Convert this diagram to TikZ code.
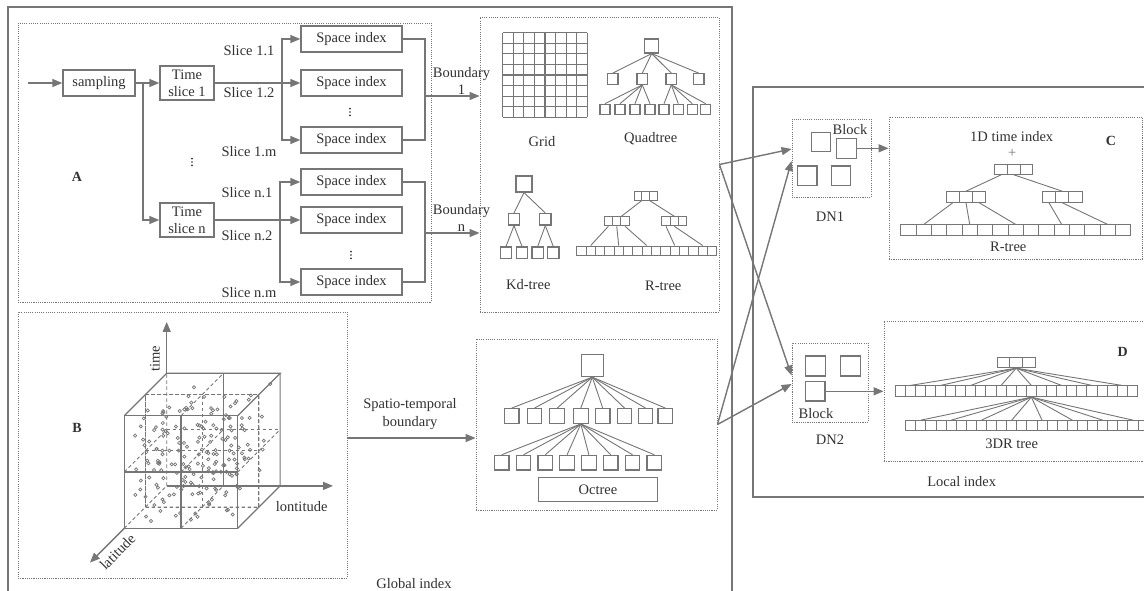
\documentclass[tikz,border=0pt]{standalone}
\usepackage{fontspec}
\setmainfont{Liberation Serif}
\usetikzlibrary{arrows.meta,calc}
\definecolor{lncol}{RGB}{118,118,118}
\definecolor{txcol}{RGB}{50,50,50}
% a row of equal cells named <prefix>1, <prefix>2, ...
% #1 prefix, #2 x of first centre, #3 y, #4 count, #5 cell width, #6 cell height
\newcommand\cellrow[6]{%
  \foreach \k in {1,...,#4}{%
    \node[rcell, minimum width=#5pt, minimum height=#6pt] (#1\k) at ({#2+(\k-1)*#5},#3) {};
  }%
}
% three small dots stacked vertically
\newcommand\vdotsat[2]{%
  \foreach \d in {-3.4,0,3.4}{\fill[txcol] (#1,{#2+\d}) circle[radius=0.95pt];}%
}
\begin{document}
\begin{tikzpicture}[x=1pt,y=-1pt,
  every node/.style={text=txcol, font=\fontsize{14.5}{17}\selectfont, inner sep=0pt},
  ln/.style={draw=lncol, line width=1.4pt},
  arr/.style={ln, -{Triangle[length=10pt,width=8pt]}},
  tline/.style={draw=lncol, line width=0.9pt},
  outerbox/.style={draw=lncol, line width=1.8pt, rectangle},
  dotbox/.style={draw=lncol, line width=0.9pt, dash pattern=on 1.1pt off 1.1pt, rectangle},
  flowbox/.style={draw=lncol, line width=1.4pt, rectangle, align=center},
  qbox/.style={draw=lncol, line width=1.2pt, rectangle, minimum size=#1pt},
  rcell/.style={draw=lncol, line width=1pt, rectangle},
  tag/.style={font=\fontsize{14}{16}\selectfont\bfseries},
  cubesolid/.style={draw=lncol, line width=1.2pt},
  cubedash/.style={draw=lncol, line width=0.9pt, dash pattern=on 3.5pt off 2.5pt},
  dotc/.style={draw=lncol, line width=0.7pt},
]
\useasboundingbox (0,0) rectangle (1144,591);
\clip (0,0) rectangle (1144,591);
\fill[white] (0,0) rectangle (1144,591);

% ---------- frames ----------
\node[outerbox, minimum width=724pt, minimum height=613pt] (global) at (370,313.5) {};
\node[outerbox, minimum width=417pt, minimum height=410pt] (local) at (961.5,292) {};

\node[dotbox, minimum width=413pt, minimum height=279pt] (boxA) at (224.5,162.5) {};
\node[dotbox, minimum width=239pt, minimum height=295pt] (spbox) at (599.5,164.5) {};
\node[dotbox, minimum width=329pt, minimum height=266pt] (boxB) at (182.5,445) {};
\node[dotbox, minimum width=241pt, minimum height=171pt] (octbox) at (596.5,424.5) {};
\node[dotbox, minimum width=79pt, minimum height=78pt] (dn1) at (831.5,158) {};
\node[dotbox, minimum width=253.5pt, minimum height=142pt] (boxC) at (1015.75,188) {};
\node[dotbox, minimum width=76pt, minimum height=79pt] (dn2) at (830,382.5) {};
\node[dotbox, minimum width=286pt, minimum height=140pt] (boxD) at (1027,391) {};

% ---------- time slicing flow ----------
\node[flowbox, minimum width=72pt, minimum height=26pt] (sampling) at (99,83) {sampling};
\node[flowbox, minimum width=54pt, minimum height=34pt] (ts1) at (187,83) {Time\\slice 1};
\node[flowbox, minimum width=54pt, minimum height=34pt] (tsn) at (187,220) {Time\\slice n};
\foreach \n/\y in {1/39,2/83,3/140,4/182,5/220,6/282}
  \node[flowbox, minimum width=101pt, minimum height=26pt] (si\n) at (351.5,\y) {Space index};

\coordinate (src) at (28,83);
\coordinate (fk0) at (143,83);
\coordinate (fk1) at (282,83);
\coordinate (fk2) at (280,220);
\coordinate (mg1) at (425,96);
\coordinate (mg2) at (425,233);

\draw[arr] (src) -- (sampling.west);
\draw[arr] (sampling.east) -- (ts1.west);
\draw[arr] (fk0) |- (tsn.west);
\draw[arr] (ts1.east) -- (si2.west);
\draw[arr] (fk1) |- (si1.west);
\draw[arr] (fk1) |- (si3.west);
\draw[arr] (tsn.east) -- (si5.west);
\draw[arr] (fk2) |- (si4.west);
\draw[arr] (fk2) |- (si6.west);
\draw[ln] (si1.east) -| (mg1) |- (si3.east);
\draw[ln] (si4.east) -| (mg2) |- (si6.east);
\draw[arr] (mg1) -- (mg1 -| spbox.west);
\draw[arr] (mg2) -- (mg2 -| spbox.west);

\node (l11) at (249,51) {Slice 1.1};
\node (l12) at (249,93) {Slice 1.2};
\node (l1m) at (249,152) {Slice 1.m};
\node (ln1) at (247,193) {Slice n.1};
\node (ln2) at (247,236) {Slice n.2};
\node (lnm) at (249,293) {Slice n.m};
\node[align=center] (bd1) at (461.5,80.5) {Boundary\\1};
\node[align=center] (bdn) at (461.5,218) {Boundary\\n};
\node[tag] (tagA) at (77,177) {A};
\vdotsat{192}{162}
\vdotsat{350}{112}
\vdotsat{351}{255}

% ---------- grid ----------
\foreach \i in {0,...,8}{
  \draw[draw=lncol, line width=1.2pt] ({502.7+10.575*\i},32.7) -- ({502.7+10.575*\i},117.3);
  \draw[draw=lncol, line width=1.2pt] (502.7,{32.7+10.575*\i}) -- (587.3,{32.7+10.575*\i});
}
\node (tgrid) at (542,141.5) {Grid};

% ---------- quadtree ----------
\node[qbox=14] (q0) at (651.7,46) {};
\foreach \i/\x in {1/612.7,2/642.3,3/671.3,4/698.7}
  \node[qbox=10.5] (q\i) at (\x,79) {};
\foreach \i/\x in {5/605,6/620,7/635,8/650,9/664,10/678.3,11/692.3,12/705.7}
  \node[qbox=10] (q\i) at (\x,109.3) {};
\foreach \i in {1,...,4} \draw[tline] (q0.south) -- (q\i.north);
\foreach \i in {5,...,8} \draw[tline] (q2.south) -- (q\i.north);
\foreach \i in {9,...,12} \draw[tline] (q3.south) -- (q\i.north);
\node (tquad) at (650.7,138.3) {Quadtree};

% ---------- kd-tree ----------
\node[qbox=16] (k0) at (524,184) {};
\node[qbox=11.5] (k1) at (514,219.3) {};
\node[qbox=11.5] (k2) at (545.3,219.3) {};
\foreach \i/\x in {3/506,4/522,5/537.7,6/553.3}
  \node[qbox=11.3] (k\i) at (\x,252.7) {};
\draw[tline] (k0.south) -- (k1.north);
\draw[tline] (k0.south) -- (k2.north);
\draw[tline] (k1.south) -- (k3.north);
\draw[tline] (k1.south) -- (k4.north);
\draw[tline] (k2.south) -- (k5.north);
\draw[tline] (k2.south) -- (k6.north);
\node (tkd) at (528.3,285) {Kd-tree};

% ---------- R-tree (global) ----------
\cellrow{rt}{638.1}{196}{3}{7.6}{8.7}
\cellrow{ra}{608.4}{221.3}{3}{8.33}{9}
\cellrow{rb}{666}{221.3}{3}{8.33}{9}
\cellrow{rl}{581.4}{250.5}{15}{9.33}{9}
\draw[tline] (rt2.south west) -- (ra2.north east);
\draw[tline] (rt2.south east) -- (rb2.north);
\draw[tline] (ra1.south) -- (rl2.north);
\draw[tline] (ra2.south) -- (rl5.north);
\draw[tline] (ra3.south) -- (rl8.north);
\draw[tline] (rb1.south) -- (rl11.north);
\draw[tline] (rb2.south) -- (rl14.north);
\node (trt) at (663.3,286) {R-tree};

% ---------- spatio-temporal cube ----------
\begin{scope}[shift={(124.3,528.3)}, x={(113.4pt,0pt)}, y={(0pt,112.6pt)}, z={(42.4pt,42.4pt)}]
  % hidden partitions
  \draw[cubedash] (0,0,0) -- (0,0,1) -- (0,1,1);
  \draw[cubedash] (0,0,0.5) -- (1,0,0.5) (0.5,0,0) -- (0.5,0,1);
  \draw[cubedash] (0,0.5,0) -- (0,0.5,1) (0,0,0.5) -- (0,1,0.5);
  \draw[cubedash] (0,0.5,1) -- (1,0.5,1);
  \draw[cubedash] (0,1,0.5) -- (1,1,0.5) (0.5,1,0) -- (0.5,1,1);
  \draw[cubedash] (1,0.5,0) -- (1,0.5,1) (1,0,0.5) -- (1,1,0.5);
  \draw[cubedash] (0,0,0.5) -- (1,0,0.5) -- (1,1,0.5) -- (0,1,0.5) -- cycle;
  \draw[cubedash] (0.5,0,0.5) -- (0.5,1,0.5) (0,0.5,0.5) -- (1,0.5,0.5);
  \draw[cubedash] (0.5,0.5,0) -- (0.5,0.5,1);
  % points
  \pgfmathsetseed{11}
  \foreach \i in {1,...,190}{
    \pgfmathsetmacro\cu{0.04+0.92*rnd}
    \pgfmathsetmacro\cv{0.04+0.92*rnd}
    \pgfmathsetmacro\cw{0.04+0.92*rnd}
    \draw[dotc] (\cu,\cv,\cw) circle[radius=1.6pt];
  }
  % visible edges
  \draw[cubesolid] (0,0,0) -- (1,0,0) -- (1,1,0) -- (0,1,0) -- cycle;
  \draw[cubesolid] (0.5,0,0) -- (0.5,1,0) (0,0.5,0) -- (1,0.5,0);
  \draw[cubesolid] (0,1,0) -- (0,1,1) -- (1,1,1) -- (1,1,0);
  \draw[cubesolid] (1,1,1) -- (1,0,1) -- (1,0,0);
  \draw[cubesolid] (0.5,0,1) -- (0.5,1,1);
  \draw[cubesolid] (0,0,1) -- (1,0,1);
  % axes
  \draw[arr] (0,1,1) -- (0,1.456,1);
  \draw[arr] (1,0,1) -- (1.467,0,1);
  \draw[arr] (0,0,0) -- (0,0,-0.81);
\end{scope}
\node[rotate=90] (ttime) at (155,359) {time};
\node (tlon) at (301.7,506.7) {lontitude};
\node[rotate=45] (tlat) at (117.5,552) {latitude};
\node[tag] (tagB) at (77,428) {B};

% ---------- octree ----------
\node[qbox=21.7] (o0) at (592.3,365.7) {};
\foreach \i/\x in {1/511.7,2/534.5,3/557.2,4/580.8,5/602.7,6/624.5,7/645.5,8/665.3}
  \node[qbox=14.7] (oa\i) at (\x,416) {};
\foreach \i/\x in {1/501.7,2/523.5,3/545.3,4/567.1,5/588.9,6/610.7,7/632.5,8/654.3}
  \node[qbox=14.7] (ob\i) at (\x,462.7) {};
\foreach \i in {1,...,8} \draw[tline] (o0.south) -- (oa\i.north);
\foreach \i in {1,...,8} \draw[tline] (oa4.south) -- (ob\i.north);
\node[draw=lncol, line width=1.3pt, minimum width=119.4pt, minimum height=24pt] (octlbl) at (598,489.7) {Octree};

\coordinate (stb) at ([yshift=7pt]boxB.east);
\draw[arr] (stb) -- (stb -| octbox.west);
\node[align=center, font=\fontsize{14.5}{18}\selectfont] (tstb) at (410,414) {Spatio-temporal\\boundary};
\node (tglobal) at (414,584) {Global index};

% ---------- global to local ----------
\draw[arr] (spbox.east) -- ([yshift=9pt]dn1.west);
\draw[arr] (spbox.east) -- ([yshift=7pt]dn2.west);
\draw[arr] (octbox.east) -- ([yshift=-3pt]dn1.west);
\draw[arr] (octbox.east) -- ([yshift=-1.5pt]dn2.west);

% ---------- data node 1 ----------
\node[qbox=19] (b11) at (821.2,142) {};
\node[qbox=20] (b12) at (846.7,148.3) {};
\node[qbox=19.5] (b13) at (807.3,175.7) {};
\node[qbox=19.5] (b14) at (841,175.7) {};
\node (tblk1) at (850,130) {Block};
\node (tdn1) at (830,216.7) {DN1};
\draw[arr] (b12.east) -- (b12.east -| boxC.west);

\node (ttime1d) at (1011.7,136.7) {1D time index};
\node[text=lncol] (tplus) at (1012.3,153.3) {+};
\node[tag] (tagC) at (1111,141) {C};
\cellrow{ct}{1001.2}{169.3}{3}{12.6}{10}
\cellrow{ca}{952.7}{197}{3}{13.3}{10.6}
\cellrow{cb}{1049}{197}{3}{13.3}{10.6}
\cellrow{cl}{908.4}{230.3}{15}{15.33}{10.7}
\draw[tline] (ct1.south) -- (ca2.north);
\draw[tline] (ct2.south) -- (cb2.north);
\draw[tline] (ca1.south) -- (cl2.north);
\draw[tline] (ca2.south) -- (cl5.north);
\draw[tline] (ca3.south) -- (cl8.north);
\draw[tline] (cb1.south) -- (cl11.north);
\draw[tline] (cb2.south) -- (cl14.north);
\node (tcr) at (1008.3,246.7) {R-tree};

% ---------- data node 2 ----------
\node[qbox=20] (b21) at (815.3,366) {};
\node[qbox=20] (b22) at (850.7,366) {};
\node[qbox=19.5] (b23) at (815.3,391.3) {};
\node (tblk2) at (816,413.3) {Block};
\node (tdn2) at (830,440) {DN2};
\draw[arr] (b23.east) -- (b23.east -| boxD.west);

\node[tag] (tagD) at (1122.7,352) {D};
\cellrow{dt}{1003.6}{362.7}{3}{12.6}{10}
\cellrow{dm}{900.05}{391.3}{24}{10.1}{10.7}
\cellrow{dl}{910.75}{425.8}{24}{10.1}{10.3}
\foreach \g in {2,5,8,11,14,17,20,23} \draw[tline] (dt2.south) -- (dm\g.north);
\foreach \g in {2,5,8,11,14,17,20,23} \draw[tline] (dm14.south) -- (dl\g.north);
\node (t3dr) at (1011.7,444) {3DR tree};
\node (tlocal) at (961.7,481.7) {Local index};
\end{tikzpicture}
\end{document}
